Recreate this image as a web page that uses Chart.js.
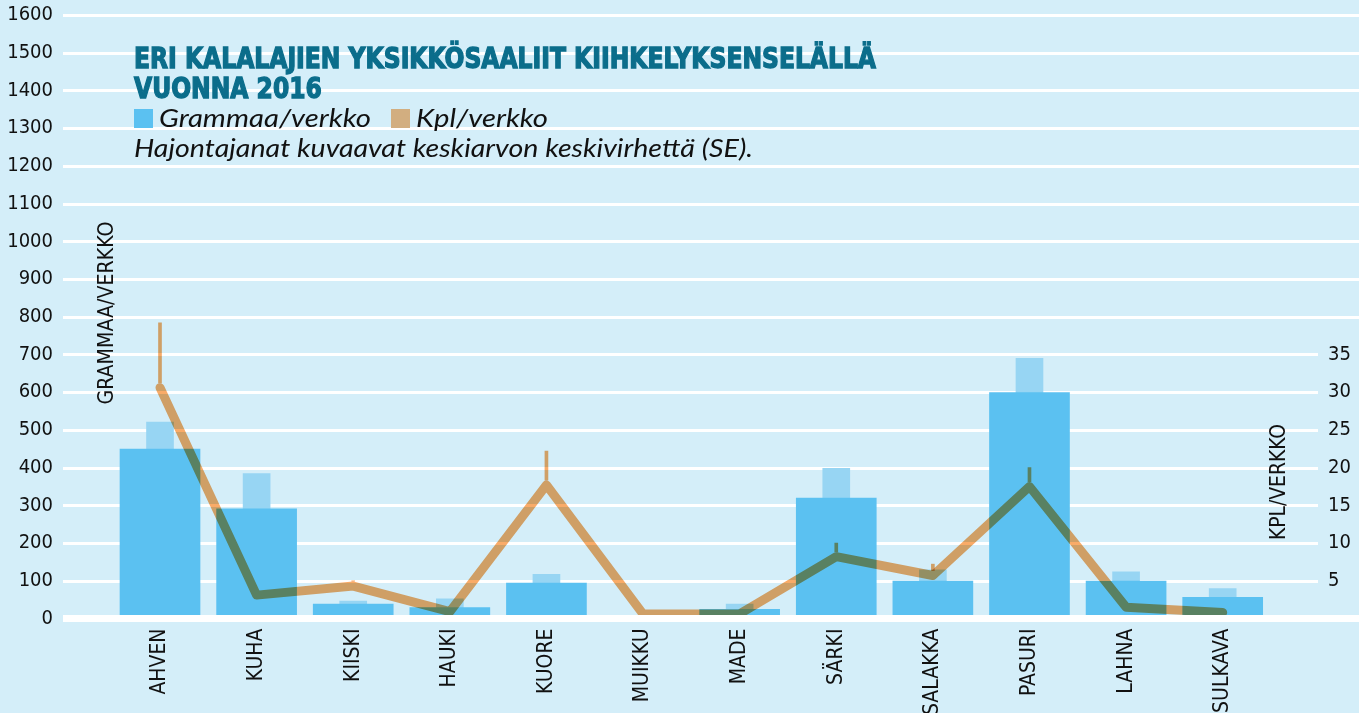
<!DOCTYPE html>
<html>
<head>
<meta charset="utf-8">
<script src="https://cdn.jsdelivr.net/npm/chart.js@4"></script>
<style>
  html, body { margin: 0; padding: 0; background: #d4eef9; }
  #wrap { position: relative; width: 1359px; height: 713px; }
</style>
</head>
<body>
<div id="wrap"><canvas id="fishChart"></canvas></div>
<script>
const categories = ['AHVEN', 'KUHA', 'KIISKI', 'HAUKI', 'KUORE', 'MUIKKU', 'MADE', 'SÄRKI', 'SALAKKA', 'PASURI', 'LAHNA', 'SULKAVA'];
const grammaa = [449, 291, 38, 29, 94, 0, 24, 319, 99, 599, 99, 56];
const grammaaSE = [72, 93, 8, 23, 23, null, 14, 79, 30, 91, 25, 23];
const kpl = [30.6, 3.1, 4.3, 0.9, 17.7, 0.6, 0.6, 8.2, 5.7, 17.5, 1.5, 0.8];
const kplSE = [8.6, null, 0.7, null, 4.5, null, null, 1.8, 1.5, 2.5, null, null];
const leftTicks = [0, 100, 200, 300, 400, 500, 600, 700, 800, 900, 1000, 1100, 1200, 1300, 1400, 1500, 1600];
const rightTicks = [5, 10, 15, 20, 25, 30, 35];

const titleLines = ['ERI KALALAJIEN YKSIKKÖSAALIIT KIIHKELYKSENSELÄLLÄ', 'VUONNA 2016'];
const legendLabels = ['Grammaa/verkko', 'Kpl/verkko'];
const subtitle = 'Hajontajanat kuvaavat keskiarvon keskivirhettä (SE).';

const narrow = '"Liberation Sans Narrow", "DejaVu Sans Condensed", sans-serif';
const bgColor = '#d4eef9';
const barBlue = '#5bc1f1';
const seBlue = '#97d5f3';
const lineOrange = '#f9ab68';
const lineWidth = 9;

function fitText(ctx, text, x, y, w) {
    const m = ctx.measureText(text).width;
    ctx.save();
    ctx.translate(x, y);
    ctx.scale(w / m, 1);
    ctx.fillText(text, 0, 0);
    ctx.restore();
}

// line + its error bars are multiplied onto what's below (gives the green over the bars)
const multiplyPlugin = {
    id: 'multiply',
    beforeDatasetDraw(chart, args) {
        const ds = chart.data.datasets[args.index];
        if (!ds.multiply) return;
        const ctx = chart.ctx;
        ctx.save();
        if (ds.clipToLine) {
            // keep the whisker out of the line itself so it isn't multiplied twice
            ctx.beginPath();
            args.meta.data.forEach(el => {
                if (el && !el.skip && isFinite(el.y) && isFinite(el.base)) {
                    const top = Math.min(el.y, el.base);
                    const bottom = Math.max(el.y, el.base) - lineWidth / 2;
                    if (bottom > top) ctx.rect(el.x - 6, top - 1, 12, bottom - top + 1);
                }
            });
            ctx.clip();
        }
        ctx.globalCompositeOperation = 'multiply';
    },
    afterDatasetDraw(chart, args) {
        if (chart.data.datasets[args.index].multiply) {
            chart.ctx.restore();
        }
    }
};

const decorPlugin = {
    id: 'decor',
    beforeDraw(chart) {
        const ctx = chart.ctx;
        ctx.save();
        ctx.fillStyle = bgColor;
        ctx.fillRect(0, 0, chart.width, chart.height);
        ctx.restore();
    },
    beforeDatasetsDraw(chart) {
        const ctx = chart.ctx;
        const y = chart.scales.y;
        ctx.save();
        ctx.strokeStyle = '#ffffff';
        ctx.lineWidth = 3;
        leftTicks.forEach(v => {
            if (v === 0) return;
            const py = Math.round(y.getPixelForValue(v)) + 0.5;
            ctx.beginPath();
            ctx.moveTo(63, py);
            ctx.lineTo(v > 700 ? 1359 : 1318, py);
            ctx.stroke();
        });
        ctx.restore();
    },
    afterDatasetsDraw(chart) {
        const ctx = chart.ctx;
        const py = chart.scales.y.getPixelForValue(0);
        ctx.save();
        ctx.fillStyle = '#ffffff';
        ctx.fillRect(63, py - 3.5, 1359 - 63, 7);
        ctx.restore();
    },
    afterDraw(chart) {
        const ctx = chart.ctx;
        ctx.save();
        // title
        ctx.fillStyle = '#0b6d8b';
        ctx.strokeStyle = '#0b6d8b';
        ctx.lineWidth = 1.3;
        ctx.font = 'bold 29px "DejaVu Sans Condensed", sans-serif';
        ctx.textBaseline = 'alphabetic';
        const w1 = ctx.measureText(titleLines[0]).width;
        const k = 742 / w1;
        ctx.save();
        ctx.translate(134, 68);
        ctx.scale(k, 1);
        ctx.fillText(titleLines[0], 0, 0);
        ctx.strokeText(titleLines[0], 0, 0);
        ctx.fillText(titleLines[1], 0, 30);
        ctx.strokeText(titleLines[1], 0, 30);
        ctx.restore();

        // legend
        ctx.fillStyle = barBlue;
        ctx.fillRect(134, 109, 19, 19);
        ctx.fillStyle = '#d2ae80';
        ctx.fillRect(391, 109, 19, 19);
        ctx.fillStyle = '#111111';
        ctx.font = 'italic 25px Lato, "Open Sans", sans-serif';
        fitText(ctx, legendLabels[0], 159, 127, 212);
        fitText(ctx, legendLabels[1], 416, 127, 132);
        fitText(ctx, subtitle, 134, 157, 619);

        // axis titles
        ctx.font = '21px ' + narrow;
        ctx.textAlign = 'center';
        ctx.textBaseline = 'middle';
        [['GRAMMAA/VERKKO', 108, 313, 183], ['KPL/VERKKO', 1280, 482, 116]].forEach(t => {
            ctx.save();
            ctx.translate(t[1], t[2]);
            ctx.rotate(-Math.PI / 2);
            const m = ctx.measureText(t[0]).width;
            ctx.scale(t[3] / m, 1);
            ctx.fillText(t[0], 0, 0);
            ctx.restore();
        });
        ctx.restore();
    }
};

const ctx = document.getElementById('fishChart').getContext('2d');

new Chart(ctx, {
    type: 'bar',
    data: {
        labels: categories,
        datasets: [
            {
                type: 'line',
                label: legendLabels[1],
                data: kpl,
                yAxisID: 'y1',
                borderColor: lineOrange,
                borderWidth: lineWidth,
                borderCapStyle: 'round',
                borderJoinStyle: 'round',
                pointRadius: 0,
                tension: 0,
                fill: false,
                multiply: true,
                order: 1
            },
            {
                label: 'Kpl SE',
                data: kpl.map((v, i) => kplSE[i] ? [v, v + kplSE[i]] : null),
                yAxisID: 'y1',
                backgroundColor: lineOrange,
                barThickness: 3,
                grouped: false,
                multiply: true,
                clipToLine: true,
                order: 2
            },
            {
                label: legendLabels[0],
                data: grammaa,
                yAxisID: 'y',
                backgroundColor: barBlue,
                barThickness: 80,
                grouped: false,
                order: 3
            },
            {
                label: 'Grammaa SE',
                data: grammaa.map((v, i) => grammaaSE[i] ? [v, v + grammaaSE[i]] : null),
                yAxisID: 'y',
                backgroundColor: seBlue,
                barThickness: 27,
                grouped: false,
                order: 4
            }
        ]
    },
    options: {
        responsive: true,
        maintainAspectRatio: false,
        animation: false,
        layout: { padding: { top: 15, left: 0, right: 0, bottom: 0 } },
        plugins: {
            legend: { display: false },
            tooltip: { enabled: false }
        },
        scales: {
            x: {
                grid: { display: false, drawTicks: false },
                border: { display: false },
                ticks: {
                    color: '#111111',
                    font: { family: narrow, size: 21 },
                    minRotation: 90,
                    maxRotation: 90,
                    autoSkip: false,
                    padding: 10
                },
                afterFit(scale) { scale.height = 94.5; }
            },
            y: {
                position: 'left',
                min: 0,
                max: 1600,
                grid: { display: false, drawTicks: false },
                border: { display: false },
                afterBuildTicks(scale) { scale.ticks = leftTicks.map(v => ({ value: v })); },
                ticks: {
                    color: '#111111',
                    font: { family: narrow, size: 20 },
                    padding: 58.7,
                    callback: v => String(v)
                },
                afterFit(scale) {
                    scale.width = 111.7;
                    scale.paddingTop = 0;
                    scale.paddingBottom = 0;
                }
            },
            y1: {
                position: 'right',
                min: 0,
                max: 80,
                grid: { display: false, drawTicks: false },
                border: { display: false },
                afterBuildTicks(scale) { scale.ticks = rightTicks.map(v => ({ value: v })); },
                ticks: {
                    color: '#111111',
                    font: { family: narrow, size: 20 },
                    padding: 57,
                    callback: v => String(v)
                },
                afterFit(scale) {
                    scale.width = 88;
                    scale.paddingTop = 0;
                    scale.paddingBottom = 0;
                }
            }
        }
    },
    plugins: [multiplyPlugin, decorPlugin]
});
</script>
</body>
</html>
